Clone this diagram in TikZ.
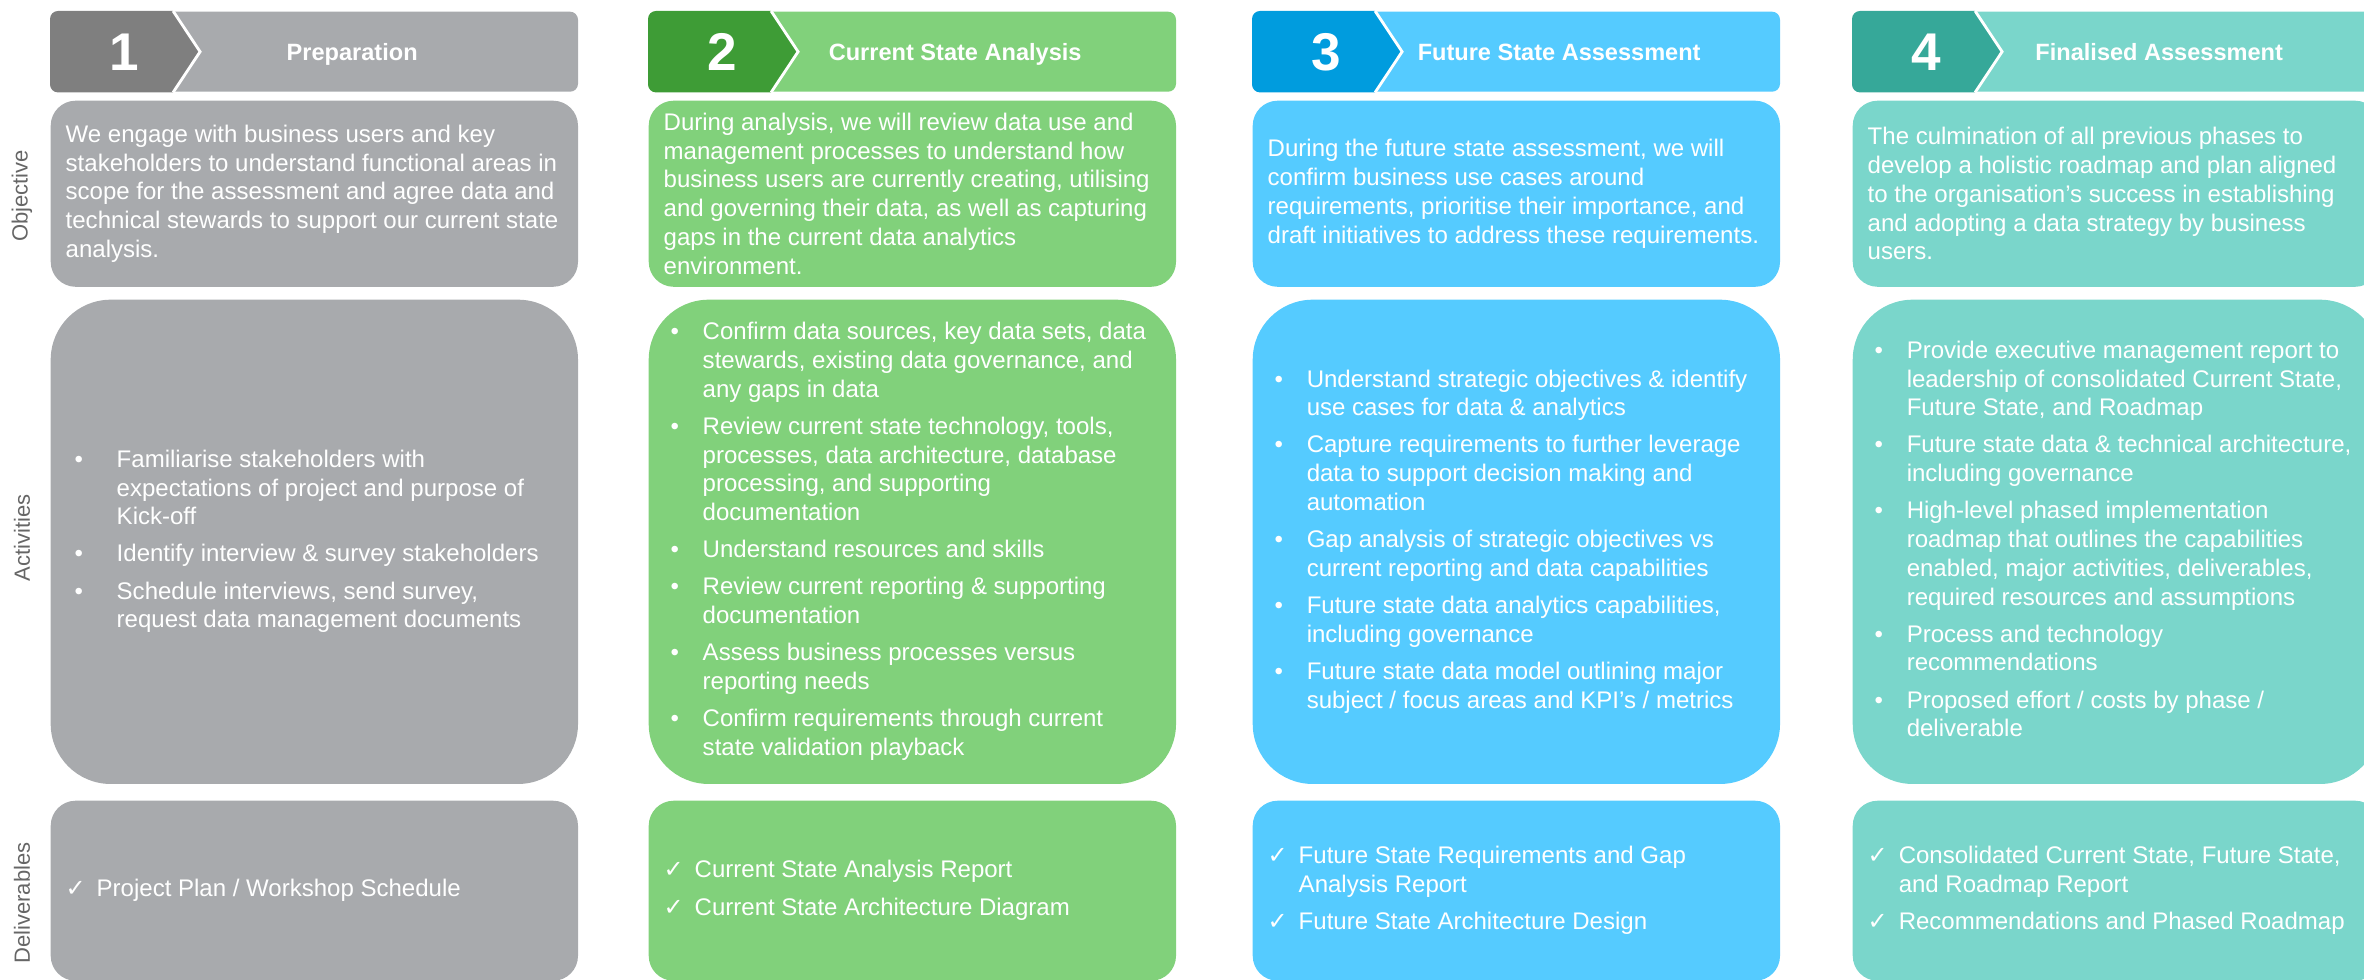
\documentclass[tikz,border=0pt]{standalone}
\usepackage{fontspec}
\setmainfont{Liberation Sans}
\newfontfamily\symfont{DejaVu Sans}
\usetikzlibrary{positioning}

\definecolor{graydark}{HTML}{7F7F7F}
\definecolor{graylight}{HTML}{A8AAAD}
\definecolor{greendark}{HTML}{3E9C36}
\definecolor{greenlight}{HTML}{81D17B}
\definecolor{bluedark}{HTML}{009CDE}
\definecolor{bluelight}{HTML}{55CBFF}
\definecolor{tealdark}{HTML}{36A899}
\definecolor{teallight}{HTML}{7AD6CB}
\definecolor{labelgray}{HTML}{666666}

\newcommand{\marklist}[2]{\begin{tabular}{@{}p{#1}@{}l@{}}#2\end{tabular}}
\newcommand{\tick}{{\symfont ✓}}

\begin{document}
\begin{tikzpicture}[
    x=0.01cm, y=-0.01cm,
    headbar/.style={rectangle, rounded corners=0.08cm, minimum width=5.27cm, minimum height=0.8cm, inner sep=0, anchor=north west},
    objbox/.style={rectangle, rounded corners=0.25cm, minimum width=5.27cm, minimum height=1.86cm, inner sep=0, anchor=north west},
    actbox/.style={rectangle, rounded corners=0.6cm, minimum width=5.27cm, minimum height=4.84cm, inner sep=0, anchor=north west},
    delbox/.style={rectangle, rounded corners=0.25cm, minimum width=5.27cm, minimum height=1.80cm, inner sep=0, anchor=north west},
    chevron/.style={draw=white, line width=0.8pt},
    stepnum/.style={text=white, inner sep=0, font=\fontsize{15.1pt}{18pt}\selectfont\bfseries, text height=0.38cm, text depth=0},
    steptitle/.style={text=white, inner sep=0, font=\fontsize{6.7pt}{8pt}\selectfont\bfseries, text height=0.168cm, text depth=0},
    bodytext/.style={text=white, inner sep=0, align=left, anchor=west, font=\fontsize{6.83pt}{8.17pt}\selectfont},
    listtext/.style={text=white, inner sep=0, anchor=west, font=\fontsize{6.83pt}{8.17pt}\selectfont},
    rowlabel/.style={text=labelgray, inner sep=0, rotate=90, font=\fontsize{6.26pt}{7.5pt}\selectfont}
]
\path[use as bounding box, clip] (0,0) rectangle (2364,980);

% Row labels
\node[rowlabel] (lblobj) at (22,196) {Objective};
\node[rowlabel] (lblact) at (22,538) {Activities};
\node[rowlabel] (lbldel) at (22,903) {Deliverables};

% Step 1: Preparation
\node[headbar, fill=graylight] (head1) at (50,11) {};
\begin{scope}
  \clip[rounded corners=0.08cm] (head1.north west) rectangle (head1.south east);
  \fill[graydark] (head1.north west) -- ([xshift=1.23cm]head1.north west) -- ([xshift=1.5cm]head1.west) -- ([xshift=1.23cm]head1.south west) -- (head1.south west) -- cycle;
\end{scope}
\draw[chevron] ([xshift=1.23cm]head1.north west) -- ([xshift=1.5cm]head1.west) -- ([xshift=1.23cm]head1.south west);
\node[stepnum] (num1) at ([xshift=0.74cm]head1.west) {1};
\node[steptitle] (title1) at ([xshift=3.02cm]head1.west) {Preparation};

\node[objbox, fill=graylight] (obj1) at (50,100) {};
\node[bodytext, right=0.15cm of obj1.west] (objtext1) {We engage with business users and key\\stakeholders to understand functional areas in\\scope for the assessment and agree data and\\technical stewards to support our current state\\analysis.};

\node[actbox, fill=graylight] (act1) at (50,299) {};
\node[listtext, right=0.24cm of act1.west] (acttext1) {\marklist{0.42cm}{%
  \textbullet & Familiarise stakeholders with\\
  & expectations of project and purpose of\\
  & Kick-off\\[2.4pt]
  \textbullet & Identify interview \& survey stakeholders\\[2.4pt]
  \textbullet & Schedule interviews, send survey,\\
  & request data management documents}};

\node[delbox, fill=graylight] (del1) at (50,800) {};
\node[listtext, right=0.15cm of del1.west] (deltext1) {\marklist{0.31cm}{%
  \tick & Project Plan / Workshop Schedule}};

% Step 2: Current State Analysis
\node[headbar, fill=greenlight] (head2) at (648,11) {};
\begin{scope}
  \clip[rounded corners=0.08cm] (head2.north west) rectangle (head2.south east);
  \fill[greendark] (head2.north west) -- ([xshift=1.23cm]head2.north west) -- ([xshift=1.5cm]head2.west) -- ([xshift=1.23cm]head2.south west) -- (head2.south west) -- cycle;
\end{scope}
\draw[chevron] ([xshift=1.23cm]head2.north west) -- ([xshift=1.5cm]head2.west) -- ([xshift=1.23cm]head2.south west);
\node[stepnum] (num2) at ([xshift=0.74cm]head2.west) {2};
\node[steptitle] (title2) at ([xshift=3.07cm]head2.west) {Current State Analysis};

\node[objbox, fill=greenlight] (obj2) at (648,100) {};
\node[bodytext, right=0.15cm of obj2.west] (objtext2) {During analysis, we will review data use and\\management processes to understand how\\business users are currently creating, utilising\\and governing their data, as well as capturing\\gaps in the current data analytics\\environment.};

\node[actbox, fill=greenlight] (act2) at (648,299) {};
\node[listtext, right=0.22cm of act2.west] (acttext2) {\marklist{0.32cm}{%
  \textbullet & Confirm data sources, key data sets, data\\
  & stewards, existing data governance, and\\
  & any gaps in data\\[2.4pt]
  \textbullet & Review current state technology, tools,\\
  & processes, data architecture, database\\
  & processing, and supporting\\
  & documentation\\[2.4pt]
  \textbullet & Understand resources and skills\\[2.4pt]
  \textbullet & Review current reporting \& supporting\\
  & documentation\\[2.4pt]
  \textbullet & Assess business processes versus\\
  & reporting needs\\[2.4pt]
  \textbullet & Confirm requirements through current\\
  & state validation playback}};

\node[delbox, fill=greenlight] (del2) at (648,800) {};
\node[listtext, right=0.15cm of del2.west] (deltext2) {\marklist{0.31cm}{%
  \tick & Current State Analysis Report\\[2.4pt]
  \tick & Current State Architecture Diagram}};

% Step 3: Future State Assessment
\node[headbar, fill=bluelight] (head3) at (1252,11) {};
\begin{scope}
  \clip[rounded corners=0.08cm] (head3.north west) rectangle (head3.south east);
  \fill[bluedark] (head3.north west) -- ([xshift=1.23cm]head3.north west) -- ([xshift=1.5cm]head3.west) -- ([xshift=1.23cm]head3.south west) -- (head3.south west) -- cycle;
\end{scope}
\draw[chevron] ([xshift=1.23cm]head3.north west) -- ([xshift=1.5cm]head3.west) -- ([xshift=1.23cm]head3.south west);
\node[stepnum] (num3) at ([xshift=0.74cm]head3.west) {3};
\node[steptitle] (title3) at ([xshift=3.07cm]head3.west) {Future State Assessment};

\node[objbox, fill=bluelight] (obj3) at (1252,100) {};
\node[bodytext, right=0.15cm of obj3.west] (objtext3) {During the future state assessment, we will\\confirm business use cases around\\requirements, prioritise their importance, and\\draft initiatives to address these requirements.};

\node[actbox, fill=bluelight] (act3) at (1252,299) {};
\node[listtext, right=0.22cm of act3.west] (acttext3) {\marklist{0.32cm}{%
  \textbullet & Understand strategic objectives \& identify\\
  & use cases for data \& analytics\\[2.4pt]
  \textbullet & Capture requirements to further leverage\\
  & data to support decision making and\\
  & automation\\[2.4pt]
  \textbullet & Gap analysis of strategic objectives vs\\
  & current reporting and data capabilities\\[2.4pt]
  \textbullet & Future state data analytics capabilities,\\
  & including governance\\[2.4pt]
  \textbullet & Future state data model outlining major\\
  & subject / focus areas and KPI’s / metrics}};

\node[delbox, fill=bluelight] (del3) at (1252,800) {};
\node[listtext, right=0.15cm of del3.west] (deltext3) {\marklist{0.31cm}{%
  \tick & Future State Requirements and Gap\\
  & Analysis Report\\[2.4pt]
  \tick & Future State Architecture Design}};

% Step 4: Finalised Assessment
\node[headbar, fill=teallight] (head4) at (1852,11) {};
\begin{scope}
  \clip[rounded corners=0.08cm] (head4.north west) rectangle (head4.south east);
  \fill[tealdark] (head4.north west) -- ([xshift=1.23cm]head4.north west) -- ([xshift=1.5cm]head4.west) -- ([xshift=1.23cm]head4.south west) -- (head4.south west) -- cycle;
\end{scope}
\draw[chevron] ([xshift=1.23cm]head4.north west) -- ([xshift=1.5cm]head4.west) -- ([xshift=1.23cm]head4.south west);
\node[stepnum] (num4) at ([xshift=0.74cm]head4.west) {4};
\node[steptitle] (title4) at ([xshift=3.07cm]head4.west) {Finalised Assessment};

\node[objbox, fill=teallight] (obj4) at (1852,100) {};
\node[bodytext, right=0.15cm of obj4.west] (objtext4) {The culmination of all previous phases to\\develop a holistic roadmap and plan aligned\\to the organisation’s success in establishing\\and adopting a data strategy by business\\users.};

\node[actbox, fill=teallight] (act4) at (1852,299) {};
\node[listtext, right=0.22cm of act4.west] (acttext4) {\marklist{0.32cm}{%
  \textbullet & Provide executive management report to\\
  & leadership of consolidated Current State,\\
  & Future State, and Roadmap\\[2.4pt]
  \textbullet & Future state data \& technical architecture,\\
  & including governance\\[2.4pt]
  \textbullet & High-level phased implementation\\
  & roadmap that outlines the capabilities\\
  & enabled, major activities, deliverables,\\
  & required resources and assumptions\\[2.4pt]
  \textbullet & Process and technology\\
  & recommendations\\[2.4pt]
  \textbullet & Proposed effort / costs by phase /\\
  & deliverable}};

\node[delbox, fill=teallight] (del4) at (1852,800) {};
\node[listtext, right=0.15cm of del4.west] (deltext4) {\marklist{0.31cm}{%
  \tick & Consolidated Current State, Future State,\\
  & and Roadmap Report\\[2.4pt]
  \tick & Recommendations and Phased Roadmap}};

\end{tikzpicture}
\end{document}
